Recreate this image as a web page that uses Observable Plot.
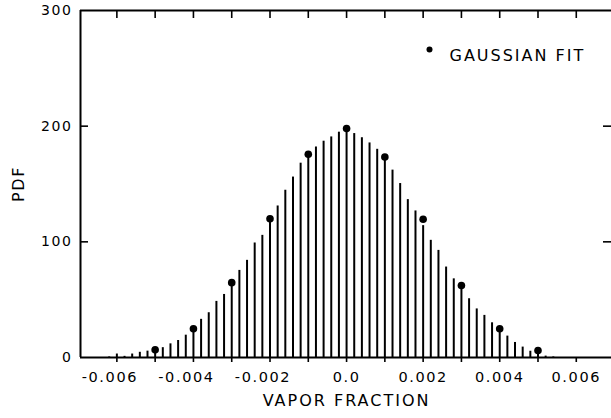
<!DOCTYPE html>
<html>
<head>
<meta charset="utf-8">
<script src="https://cdn.jsdelivr.net/npm/d3@7"></script>
<script src="https://cdn.jsdelivr.net/npm/@observablehq/plot@0.6"></script>
<style>
  body { margin: 0; background: #fff; }
  #chart svg text { letter-spacing: 1.6px; }
  #chart svg .wide-text text { letter-spacing: 2px; }
</style>
</head>
<body>
<div id="chart"></div>
<script>
// Histogram bins (vapor fraction) and measured PDF heights
const binX = [
  -0.0062, -0.0060, -0.0058, -0.0056, -0.0054, -0.0052, -0.0050, -0.0048, -0.0046, -0.0044,
  -0.0042, -0.0040, -0.0038, -0.0036, -0.0034, -0.0032, -0.0030, -0.0028, -0.0026, -0.0024,
  -0.0022, -0.0020, -0.0018, -0.0016, -0.0014, -0.0012, -0.0010, -0.0008, -0.0006, -0.0004,
  -0.0002, 0.0000, 0.0002, 0.0004, 0.0006, 0.0008, 0.0010, 0.0012, 0.0014, 0.0016,
  0.0018, 0.0020, 0.0022, 0.0024, 0.0026, 0.0028, 0.0030, 0.0032, 0.0034, 0.0036,
  0.0038, 0.0040, 0.0042, 0.0044, 0.0046, 0.0048, 0.0050, 0.0052, 0.0054
];
const binPdf = [
  0.5, 3, 1, 3, 4.5, 5.5, 6, 8.5, 11.8, 14.7,
  19.3, 23, 33, 38.7, 48.5, 54.5, 64, 75.3, 84, 99,
  105.6, 118, 131, 144.6, 156, 168, 174, 182, 187, 190.7,
  194.8, 196, 193.6, 190, 185.5, 180, 172, 162, 150.4, 136.5,
  126.7, 114, 101.3, 92.6, 78.2, 68, 60, 50.8, 42, 36.4,
  30, 23, 18.5, 13, 9, 5.4, 4, 1.2, 0.5
];
// Gaussian fit points
const fitX = [-0.005, -0.004, -0.003, -0.002, -0.001, 0.0, 0.001, 0.002, 0.003, 0.004, 0.005];
const fitPdf = [6.6, 24.8, 64.7, 120, 175.7, 198, 173.4, 119.5, 62.3, 24.8, 6];

// Axis ticks and labels
const xTickValues = [-0.006, -0.004, -0.002, 0, 0.002, 0.004, 0.006];
const xTickLabels = ["-0.006", "-0.004", "-0.002", "0.0", "0.002", "0.004", "0.006"];
const xMinorTicks = [-0.006, -0.005, -0.004, -0.003, -0.002, -0.001, 0, 0.001, 0.002, 0.003, 0.004, 0.005, 0.006];
const yTickValues = [0, 100, 200, 300];
const yInnerTicks = [100, 200];

const bins = binX.map((x, i) => ({x, pdf: binPdf[i]}));
const fit = fitX.map((x, i) => ({x, pdf: fitPdf[i]}));
const xLabelMap = new Map(xTickValues.map((v, i) => [v, xTickLabels[i]]));

const W = 611, H = 418, ML = 80, MR = 0, MT = 10, MB = 61;
const FW = W - ML - MR, FH = H - MT - MB;

const chart = Plot.plot({
  width: W, height: H,
  marginLeft: ML, marginRight: MR, marginTop: MT, marginBottom: MB,
  style: {fontFamily: "DejaVu Sans", fontSize: "14px", color: "#000", background: "#fff"},
  x: {domain: [-0.00695, 0.00692]},
  y: {domain: [0, 300]},
  marks: [
    Plot.ruleX(bins, {x: "x", y1: 0, y2: "pdf", stroke: "#000", strokeWidth: 2}),
    Plot.dot(fit, {x: "x", y: "pdf", r: 3.8, fill: "#000", stroke: "none"}),
    // frame lines
    Plot.ruleY([0], {stroke: "#000", strokeWidth: 2.2}),
    Plot.ruleY([300], {stroke: "#000", strokeWidth: 2}),
    Plot.ruleX([-0.00695], {stroke: "#000", strokeWidth: 2}),
    // inward ticks (left, right, top) and outward ticks (bottom)
    Plot.ruleY(yInnerTicks, {y: d => d, insetRight: FW - 8, stroke: "#000", strokeWidth: 1.6}),
    Plot.ruleY(yInnerTicks, {y: d => d, insetLeft: FW - 8, stroke: "#000", strokeWidth: 1.6}),
    Plot.ruleX(xMinorTicks, {x: d => d, insetBottom: FH - 8, stroke: "#000", strokeWidth: 1.6}),
    Plot.ruleX(xMinorTicks, {x: d => d, insetTop: FH - 5, dy: 5, stroke: "#000", strokeWidth: 1.6}),
    // axis labels
    Plot.axisY({ticks: yTickValues, tickSize: 0, tickPadding: 8, fontSize: 14, label: null}),
    Plot.axisY({ticks: [], label: "PDF", labelAnchor: "center", labelOffset: 68, labelArrow: "none", fontSize: 16}),
    Plot.axisX({ticks: xTickValues.filter(v => v < 0), tickFormat: d => xLabelMap.get(d), tickSize: 0, tickPadding: 14, dx: -7, fontSize: 14.5, label: null}),
    Plot.axisX({ticks: xTickValues.filter(v => v >= 0), tickFormat: d => xLabelMap.get(d), tickSize: 0, tickPadding: 14, fontSize: 14.5, label: null}),
    Plot.text(["VAPOR FRACTION"], {frameAnchor: "bottom", x: 0, dy: 48, fontSize: 16, fill: "#000", className: "wide-text"}),
    // legend
    Plot.dot(["GAUSSIAN FIT"], {frameAnchor: "top-left", dx: 349, dy: 39, r: 3, fill: "#000", stroke: "none"}),
    Plot.text(["GAUSSIAN FIT"], {frameAnchor: "top-left", dx: 369, dy: 39, textAnchor: "start", fontSize: 16, fill: "#000", className: "wide-text"})
  ]
});
document.getElementById("chart").appendChild(chart);
</script>
</body>
</html>
